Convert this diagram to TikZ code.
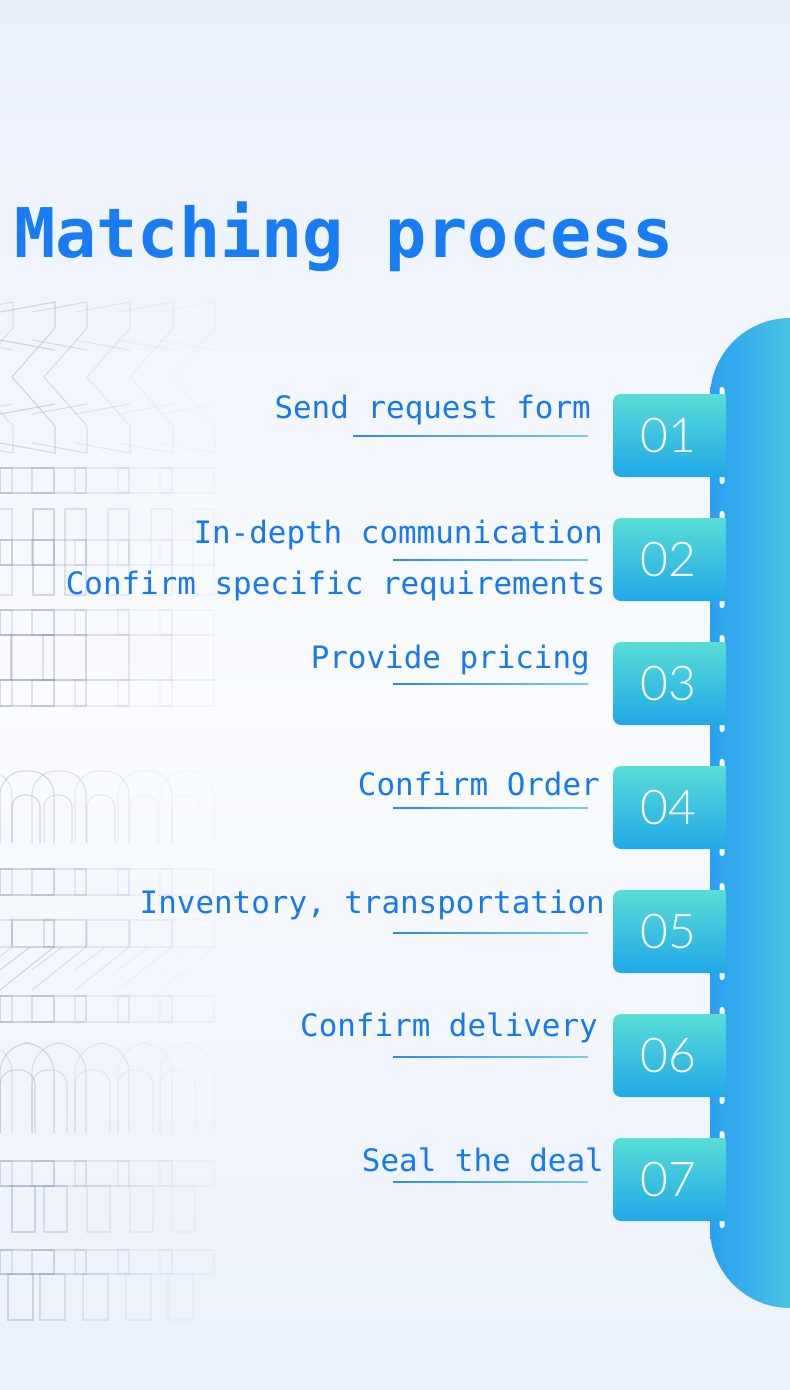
\documentclass[tikz,border=0pt]{standalone}
\usepackage{fontspec}
\setmonofont{DejaVu Sans Mono}
\newfontfamily\numfont{Lato Light}
\usetikzlibrary{calc}

\definecolor{titleblue}{RGB}{24,124,244}
\definecolor{textblue}{RGB}{22,122,236}
\definecolor{bgtop}{RGB}{234,240,251}
\definecolor{bgmid}{RGB}{249,251,254}
\definecolor{bgbot}{RGB}{235,241,251}
\definecolor{barblue}{RGB}{33,148,245}
\definecolor{barcyan}{RGB}{82,206,224}
\definecolor{boxtop}{RGB}{88,221,215}
\definecolor{boxbot}{RGB}{33,168,232}
\definecolor{linestart}{RGB}{42,140,230}
\definecolor{lineend}{RGB}{122,206,225}
\definecolor{decoline}{RGB}{138,146,182}

\begin{document}
\begin{tikzpicture}[
      x=1pt, y=-1pt,
      steptext/.style={anchor=base east, inner sep=0, text=textblue,
        font=\ttfamily\fontsize{30.9}{31}\selectfont},
      numtext/.style={inner sep=0, text=white,
        font=\numfont\fontsize{48}{48}\selectfont},
      ]

      \useasboundingbox (0,0) rectangle (790,1390);
      \clip (0,0) rectangle (790,1390);

      % background
      \shade[top color=bgtop, bottom color=bgmid] (0,0) rectangle (790,700);
      \shade[top color=bgmid, bottom color=bgbot] (0,700) rectangle (790,1390);

      % faint outlined letters on the left
      \begin{scope}[draw=decoline, line width=1.1pt]
      \foreach \dx/\op in {-42/0.22, 0/0.35, 32/0.25, 75/0.16, 118/0.09, 160/0.05} {
        \begin{scope}[xshift=\dx, draw opacity=\op]
          \draw (0,312) -- (55,302) -- (55,328) -- (12,377) -- (55,426) -- (55,453) -- (0,443);
          \draw (0,340) -- (55,350) (0,414) -- (55,404);
          \foreach \ya/\yb in {468/493, 610/635, 680/706, 869/895, 996/1022, 1161/1186, 1250/1274}
            \draw (0,\ya) rectangle (54,\yb);
          \draw (33,509) rectangle (54,595);
          \draw (0,540) rectangle (54,565);
          \draw (11,635) rectangle (54,680);
          \draw[rounded corners=24pt] (0,843) -- (0,771) -- (54,771) -- (54,843);
          \draw[rounded corners=12pt] (12,843) -- (12,795) -- (40,795) -- (40,843);
          \draw (12,920) rectangle (54,947);
          \draw (54,947) -- (0,990) (30,947) -- (0,970);
          \draw[rounded corners=30pt] (0,1133) -- (0,1043) -- (54,1043) -- (54,1133);
          \draw[rounded corners=15pt] (0,1133) -- (0,1070) -- (35,1070) -- (35,1133);
          \draw (12,1186) rectangle (35,1232);
          \draw (8,1274) rectangle (33,1320);
        \end{scope}
      }
      \end{scope}

      % title
      \node[anchor=base west, inner sep=0, text=titleblue,
        font=\ttfamily\bfseries\fontsize{68.5}{68}\selectfont] (title) at (14,257) {Matching process};

      % right bar
      \begin{scope}
        \clip[rounded corners=80pt] (710,318) rectangle (870,1308);
        \shade[left color=barblue, right color=barcyan] (685,318) rectangle (815,1308);
      \end{scope}

      % number boxes with the little white dots
      \foreach \n/\yc in {01/435.5, 02/559.5, 03/683.5, 04/807.5, 05/931.5, 06/1055.5, 07/1179.5} {
        \fill[white, rounded corners=2.5pt] (719.5,\yc-48.5) rectangle (724.5,\yc-37);
        \fill[white, rounded corners=2.5pt] (719.5,\yc+37) rectangle (724.5,\yc+48.5);
        \shade[top color=boxtop, bottom color=boxbot]
          (726,\yc-41.5) -- (726,\yc+41.5) -- (650,\yc+41.5)
          [rounded corners=8pt] -- (613,\yc+41.5) -- (613,\yc-41.5) -- (650,\yc-41.5)
          [sharp corners] -- cycle;
        \node[numtext] (num\n) at (668,\yc) {\n};
      }

      % step texts
      \node[steptext] (send) at (591,418) {Send request form};
      \node[steptext] (comm) at (603,543) {In-depth communication};
      \node[steptext] (req) at (605.5,594) {Confirm specific requirements};
      \node[steptext] (price) at (590,668) {Provide pricing};
      \node[steptext] (order) at (600,795) {Confirm Order};
      \node[steptext] (stock) at (605,913) {Inventory, transportation};
      \node[steptext] (deliv) at (598,1036) {Confirm delivery};
      \node[steptext] (deal) at (604,1171) {Seal the deal};

      % underlines
      \foreach \xa/\yl in {353/436, 393/560, 393/684, 393/808, 393/933, 393/1057, 393/1182}
        \shade[left color=linestart, right color=lineend] (\xa,\yl-0.6) rectangle (588,\yl+0.6);

\end{tikzpicture}
\end{document}
